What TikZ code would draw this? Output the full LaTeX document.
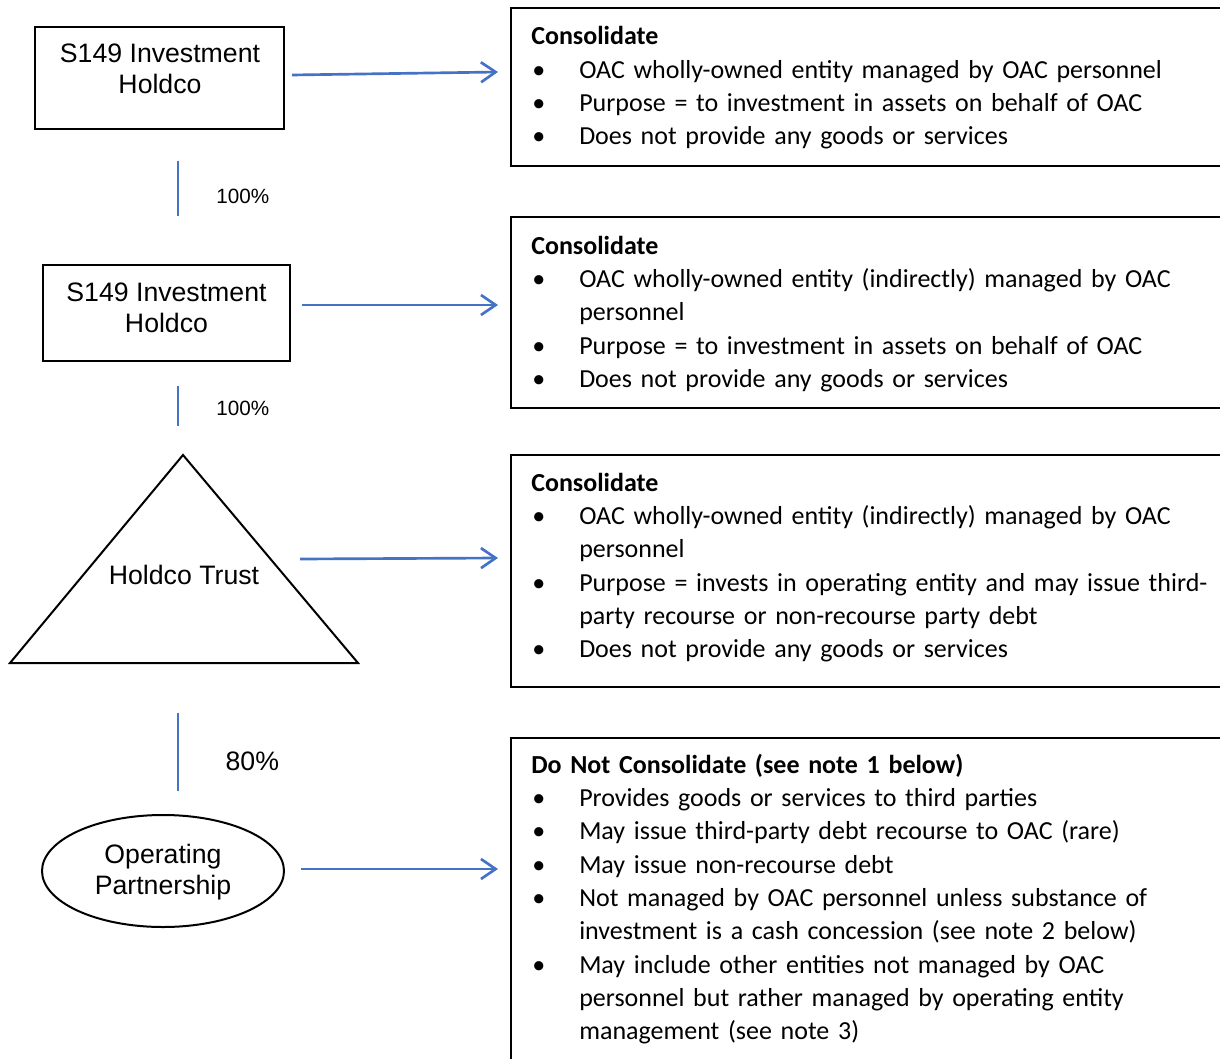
\documentclass[tikz,border=0pt]{standalone}
\usepackage{fontspec}
\setmainfont{Carlito}
\newfontfamily\arialfont{Liberation Sans}
\usepackage{tikz}
\usetikzlibrary{arrows.meta,shapes.geometric,positioning}

\definecolor{linkblue}{RGB}{68,114,196}

\newcommand\bul[1]{\par\hangindent=36pt\hangafter=1\noindent\hbox to 36pt{\hskip0.75pt\textbullet\hss}#1\par}

\begin{document}
\begin{tikzpicture}[x=0.75pt,y=-0.75pt]
\tikzset{
	entity/.style = {draw, line width = 1.5pt, inner sep = 0},
	entity text/.style = {align = center, inner sep = 0, font = \arialfont\fontsize{20pt}{23pt}\selectfont},
	info box/.style = {draw, line width = 1.5pt, minimum width = 546.75pt},
	info text/.style = {anchor = base west, inner sep = 0, text width = 560pt, align = left, font = \fontsize{19.5pt}{25pt}\selectfont},
	link/.style = {draw = linkblue, line width = 2pt, -{Straight Barb[length = 11pt, width = 15pt]}},
	own/.style = {draw = linkblue, line width = 1.5pt},
	pct/.style = {inner sep = 0, font = \arialfont\fontsize{15.5pt}{18pt}\selectfont},
}
\useasboundingbox (0,0) rectangle (1220,1059);
\clip (0,0) rectangle (1220,1059);

% entities on the left
\node (hc1) [entity, minimum width = 186.75pt, minimum height = 76.5pt] at (159.5,78) {};
\node (hc1 text) [entity text] at (160,69) {S149 Investment\\Holdco};
\node (hc2) [entity, minimum width = 185.25pt, minimum height = 72pt] at (166.5,313) {};
\node (hc2 text) [entity text] at (166.5,308) {S149 Investment\\Holdco};
\coordinate (trust apex) at (183,455);
\coordinate (trust left) at (10,663);
\coordinate (trust right) at (358,663);
\coordinate (trust base) at (178,663);
\draw [line width = 1.5pt, line join = miter] (trust apex) -- (trust right) -- (trust left) -- cycle;
\node (trust) [entity text] at (184,575) {Holdco Trust};
\node (op) [entity, ellipse, minimum width = 181.5pt, minimum height = 84pt] at (163,871) {};
\node (op text) [entity text] at (163,872) {Operating\\Partnership};

% ownership lines
\draw [own] ([shift={(18.5,31)}]hc1.south) -- ([shift={(11.5,-48)}]hc2.north)
	node (own1) [pct, pos = 0.65, right = 28pt] {100\%};
\draw [own] ([shift={(11.5,24)}]hc2.south) -- ([shift={(-5,-29)}]trust apex)
	node (own2) [pct, pos = 0.55, right = 28pt] {100\%};
\draw [own] ([shift={(0,50)}]trust base) -- ([shift={(15,-23)}]op.north)
	node (own3) [pct, pos = 0.62, right = 35pt, font = \arialfont\fontsize{20pt}{23pt}\selectfont] {80\%};

% conclusions on the right
\node (cons1) [info box, minimum height = 118.5pt] at (875.5,87) {};
\node (cons1 text) [info text] at (531,45) {\textbf{Consolidate}
	\bul{OAC wholly-owned entity managed by OAC personnel}
	\bul{Purpose = to investment in assets on behalf of OAC}
	\bul{Does not provide any goods or services}};

\node (cons2) [info box, minimum height = 143.25pt] at (875.5,312.5) {};
\node (cons2 text) [info text] at (531,254) {\textbf{Consolidate}
	\bul{OAC wholly-owned entity (indirectly) managed by OAC\newline personnel}
	\bul{Purpose = to investment in assets on behalf of OAC}
	\bul{Does not provide any goods or services}};

\node (cons3) [info box, minimum height = 174pt] at (875.5,571) {};
\node (cons3 text) [info text] at (531,491) {\textbf{Consolidate}
	\bul{OAC wholly-owned entity (indirectly) managed by OAC\newline personnel}
	\bul{Purpose = invests in operating entity and may issue third-\newline party recourse or non-recourse party debt}
	\bul{Does not provide any goods or services}};

\node (cons4) [info box, minimum height = 256.5pt] at (875.5,909) {};
\node (cons4 text) [info text] at (531,773) {\textbf{Do Not Consolidate (see note 1 below)}
	\bul{Provides goods or services to third parties}
	\bul{May issue third-party debt recourse to OAC (rare)}
	\bul{May issue non-recourse debt}
	\bul{Not managed by OAC personnel unless substance of\newline investment is a cash concession (see note 2 below)}
	\bul{May include other entities not managed by OAC\newline personnel but rather managed by operating entity\newline management (see note 3)}};

% arrows
\draw [link] ([shift={(7,-3)}]hc1.east) -- ([shift={(-12,-15)}]cons1.west);
\draw [link] ([shift={(11,-8)}]hc2.east) -- ([shift={(-12,-7.5)}]cons2.west);
\draw [link] ([shift={(116,-16)}]trust.center) -- ([shift={(-12,-13)}]cons3.west);
\draw [link] ([shift={(16,-2)}]op.east) -- ([shift={(-12,-40)}]cons4.west);

\end{tikzpicture}
\end{document}
